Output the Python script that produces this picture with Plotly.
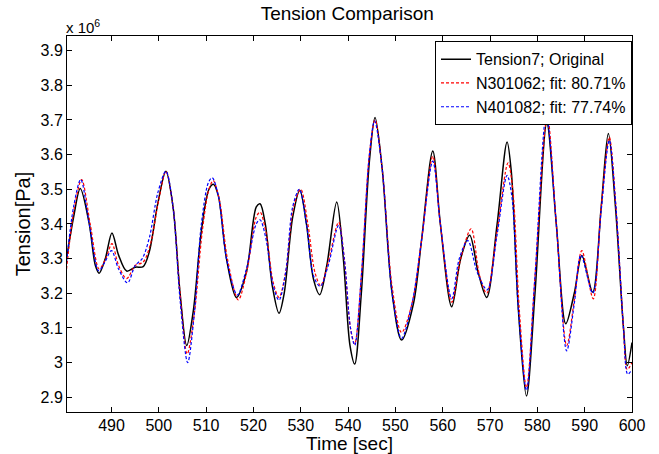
import plotly.graph_objects as go

# Time [sec] and tension [x1e6 Pa] values
t_orig = [480.5, 482.0, 483.4, 485.3, 486.6, 487.4, 488.7, 490.1, 491.5, 493.2, 495.0, 496.7, 498.0, 499.8,
          501.5, 503.0, 504.5, 505.9, 507.3, 509.0, 510.6, 511.6, 512.6, 514.3, 516.4, 518.5, 520.6, 521.4,
          522.5, 524.0, 525.4, 526.5, 528.3, 529.8, 531.2, 532.7, 534.0, 535.5, 537.6, 539.0, 540.4, 541.4,
          542.8, 544.5, 545.7, 547.2, 549.3, 551.3, 553.8, 555.5, 557.9, 559.5, 561.9, 563.8, 565.7, 567.5,
          569.3, 571.5, 573.6, 574.5, 576.0, 577.7, 579.5, 582.0, 584.0, 586.0, 587.8, 589.4, 591.7, 593.5,
          595.0, 596.5, 598.2, 599.0, 600.0]
v_orig = [3.30, 3.42, 3.502, 3.40, 3.28, 3.258, 3.30, 3.374, 3.31, 3.264, 3.275, 3.277, 3.32, 3.46,
          3.552, 3.45, 3.20, 3.049, 3.15, 3.38, 3.50, 3.514, 3.48, 3.30, 3.188, 3.26, 3.449, 3.458,
          3.40, 3.22, 3.142, 3.20, 3.42, 3.497, 3.40, 3.24, 3.196, 3.28, 3.463, 3.30, 3.05, 2.996,
          3.20, 3.58, 3.707, 3.56, 3.20, 3.065, 3.169, 3.35, 3.61, 3.40, 3.161, 3.30, 3.367, 3.26,
          3.188, 3.40, 3.636, 3.55, 3.15, 2.904, 3.20, 3.69, 3.40, 3.112, 3.20, 3.309, 3.203, 3.45,
          3.661, 3.45, 3.10, 2.991, 3.058]

t_n3 = [480.5, 482.2, 483.7, 485.5, 487.4, 488.8, 490.1, 491.5, 493.2, 495.0, 496.7, 498.2, 500.0,
        501.5, 503.0, 504.5, 506.0, 507.5, 509.2, 510.6, 511.5, 512.8, 514.5, 516.8, 518.7, 520.6, 521.4,
        522.6, 524.2, 525.4, 526.8, 528.5, 530.0, 531.5, 533.0, 534.2, 535.8, 538.0, 539.2, 540.5, 541.4,
        542.8, 544.5, 545.7, 547.2, 549.3, 551.3, 553.5, 555.5, 557.9, 559.5, 561.9, 563.8, 566.0, 567.8,
        569.3, 571.5, 573.8, 574.8, 576.2, 577.7, 579.5, 582.1, 584.0, 586.2, 587.8, 589.4, 591.8, 593.5,
        595.2, 596.6, 598.2, 599.0, 600.0]
v_n3 = [3.27, 3.45, 3.528, 3.40, 3.27, 3.30, 3.343, 3.28, 3.242, 3.28, 3.29, 3.34, 3.47,
        3.552, 3.45, 3.20, 3.025, 3.14, 3.38, 3.50, 3.525, 3.47, 3.30, 3.181, 3.27, 3.42, 3.434,
        3.38, 3.23, 3.188, 3.26, 3.45, 3.50, 3.40, 3.26, 3.222, 3.29, 3.405, 3.30, 3.10, 3.054,
        3.25, 3.60, 3.70, 3.56, 3.22, 3.087, 3.17, 3.35, 3.595, 3.40, 3.174, 3.30, 3.386, 3.25,
        3.20, 3.38, 3.576, 3.50, 3.15, 2.928, 3.25, 3.709, 3.40, 3.049, 3.18, 3.323, 3.184, 3.45,
        3.65, 3.45, 3.10, 2.98, 3.00]

t_n4 = [480.5, 482.0, 483.5, 485.3, 487.3, 488.6, 490.0, 491.5, 493.4, 495.0, 496.5, 498.0, 499.8,
        501.5, 503.0, 504.5, 506.1, 507.5, 509.0, 510.5, 511.3, 512.6, 514.3, 516.6, 518.5, 520.6, 521.4,
        522.6, 524.2, 525.4, 526.8, 528.3, 529.7, 531.2, 532.7, 534.1, 535.8, 538.0, 539.2, 540.5, 541.4,
        542.8, 544.5, 545.6, 547.2, 549.3, 551.3, 553.5, 555.5, 557.9, 559.5, 561.9, 563.5, 565.3, 567.3,
        569.4, 571.5, 573.6, 574.6, 576.0, 577.7, 579.5, 581.9, 584.0, 586.2, 587.8, 589.2, 591.7, 593.5,
        595.2, 596.6, 598.2, 599.1, 600.0]
v_n4 = [3.29, 3.45, 3.528, 3.40, 3.265, 3.29, 3.323, 3.27, 3.23, 3.28, 3.30, 3.36, 3.49,
        3.552, 3.45, 3.18, 3.00, 3.14, 3.40, 3.52, 3.533, 3.48, 3.30, 3.195, 3.27, 3.40, 3.412,
        3.36, 3.22, 3.18, 3.26, 3.45, 3.50, 3.40, 3.25, 3.22, 3.28, 3.396, 3.30, 3.10, 3.05,
        3.25, 3.60, 3.697, 3.56, 3.20, 3.07, 3.17, 3.35, 3.581, 3.40, 3.184, 3.30, 3.352, 3.26,
        3.21, 3.37, 3.54, 3.48, 3.15, 2.92, 3.25, 3.714, 3.40, 3.034, 3.17, 3.31, 3.20, 3.44,
        3.641, 3.45, 3.10, 2.967, 2.98]

x_ticks = [490, 500, 510, 520, 530, 540, 550, 560, 570, 580, 590, 600]
y_ticks = [2.9, 3.0, 3.1, 3.2, 3.3, 3.4, 3.5, 3.6, 3.7, 3.8, 3.9]
y_tick_text = ["2.9", "3", "3.1", "3.2", "3.3", "3.4", "3.5", "3.6", "3.7", "3.8", "3.9"]

SCALE = 1e6
FONT = "Liberation Sans, Arial, sans-serif"

fig = go.Figure()
fig.add_trace(go.Scatter(x=t_orig, y=[v * SCALE for v in v_orig], mode="lines",
                         name="Tension7; Original",
                         line=dict(color="black", width=1.5, shape="spline", smoothing=0.9)))
fig.add_trace(go.Scatter(x=t_n3, y=[v * SCALE for v in v_n3], mode="lines",
                         name="N301062; fit: 80.71%",
                         line=dict(color="red", width=1.2, dash="3px,2px", shape="spline", smoothing=0.9)))
fig.add_trace(go.Scatter(x=t_n4, y=[v * SCALE for v in v_n4], mode="lines",
                         name="N401082; fit: 77.74%",
                         line=dict(color="blue", width=1.2, dash="3px,2px", shape="spline", smoothing=0.9)))

axis_common = dict(showline=True, linecolor="black", linewidth=1, mirror="ticks",
                   ticks="inside", ticklen=5, tickcolor="black", showgrid=False, zeroline=False,
                   automargin=False,
                   tickfont=dict(family=FONT, size=16, color="black"))

fig.update_layout(
    width=659, height=454,
    margin=dict(l=67, r=27, t=36, b=42),
    paper_bgcolor="white", plot_bgcolor="white",
    font=dict(family=FONT, color="black"),
    title=dict(text="Tension Comparison", x=0.527, xanchor="center", y=0.986, yanchor="top",
               font=dict(family=FONT, size=19, color="black")),
    xaxis=dict(range=[480.6, 600], tickvals=x_ticks, ticklabelstandoff=-1,
               title=dict(text="Time [sec]", font=dict(family=FONT, size=19), standoff=2),
               **axis_common),
    yaxis=dict(range=[2.8575 * SCALE, 3.942 * SCALE], tickvals=[v * SCALE for v in y_ticks],
               ticktext=y_tick_text,
               title=dict(text="Tension[Pa]", font=dict(family=FONT, size=20), standoff=4),
               **axis_common),
    legend=dict(x=1, y=0.986, xanchor="right", yanchor="top", bgcolor="white",
                bordercolor="black", borderwidth=1, font=dict(family=FONT, size=16),
                tracegroupgap=0, itemwidth=30),
    showlegend=True,
)

fig.add_annotation(text="x 10<sup>6</sup>", xref="paper", yref="paper", x=0, y=1, xanchor="left",
                   yanchor="bottom", showarrow=False, font=dict(family=FONT, size=15, color="black"),
                   xshift=-3, yshift=-2)

fig.write_html("out.html")
